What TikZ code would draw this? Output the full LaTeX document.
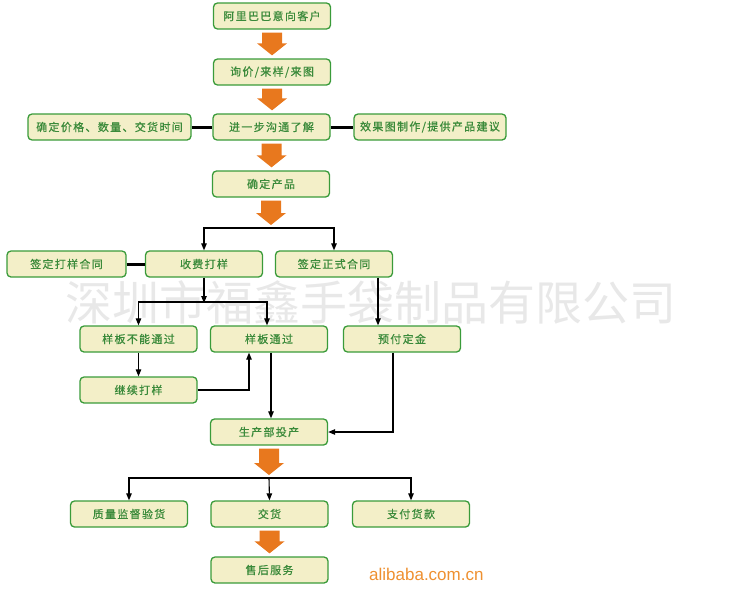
\documentclass[tikz,border=0pt]{standalone}
\usepackage{fontspec}
\setmainfont{Noto Sans CJK SC}
\newfontfamily\boxfont[LetterSpace=12,FakeBold=0.6]{Noto Sans CJK SC}
\newfontfamily\latinfont{Liberation Sans}
\usetikzlibrary{calc,arrows.meta}
\definecolor{boxfill}{HTML}{F3EFC8}
\definecolor{boxdraw}{HTML}{3A9B3A}
\definecolor{boxtext}{HTML}{3A8A3A}
\definecolor{orangec}{HTML}{E8781E}
\definecolor{webc}{HTML}{EE9030}
\newcommand\bigarrow[2]{\coordinate (ta) at (#1); \coordinate (tb) at (ta |- #2);
  \fill[orangec] ($(ta)+(-10,3)$) -- ($(ta)+(10,3)$) -- ($(tb)+(10,-15)$) -- ($(tb)+(15,-15)$) -- ($(tb)+(0,-3)$) -- ($(tb)+(-15,-15)$) -- ($(tb)+(-10,-15)$) -- cycle;}
\begin{document}
\begin{tikzpicture}[x=1pt,y=-1pt,
  box/.style={draw=boxdraw, line width=1.3pt, fill=boxfill, rounded corners=4pt,
    minimum width=117pt, minimum height=26pt, inner sep=0pt, text=boxtext,
    font=\boxfont\fontsize{11}{12}\selectfont},
  conn/.style={line width=1.1pt, -{Triangle[length=7pt,width=5.5pt]}},
  link/.style={line width=3pt}]
\useasboundingbox (0,0) rectangle (738,589);
% watermark
\node[text=black!9, font=\fontsize{47}{47}\selectfont, inner sep=0pt] (wm) at (371,302) {深圳市福鑫手袋制品有限公司};
% nodes
\node[box] (kh) at (272,16) {阿里巴巴意向客户};
\node[box] (xj) at (272,72) {询价/来样/来图};
\node[box, minimum width=163pt] (qd) at (109.5,127) {确定价格、数量、交货时间};
\node[box] (gt) at (271.5,127) {进一步沟通了解};
\node[box, minimum width=152pt] (xg) at (430,127) {效果图制作/提供产品建议};
\node[box] (cp) at (271,184) {确定产品};
\coordinate (br1) at (271,228);
\node[box, minimum width=119pt] (dy) at (66.5,264) {签定打样合同};
\node[box] (sf) at (204,264) {收费打样};
\node[box] (zs) at (334,264) {签定正式合同};
\coordinate (br2) at (204,302);
\node[box] (bn) at (138.5,339) {样板不能通过};
\node[box] (tg) at (269,339) {样板通过};
\node[box] (yf) at (402,339) {预付定金};
\node[box] (jx) at (138.5,390) {继续打样};
\node[box] (sc) at (269,432) {生产部投产};
\coordinate (br3) at (269,478);
\node[box] (zl) at (129,514) {质量监督验货};
\node[box] (jh) at (269.5,514) {交货};
\node[box] (zf) at (411,514) {支付货款};
\node[box] (sh) at (269.5,570) {售后服务};
\node[text=webc, font=\latinfont\fontsize{17}{17}\selectfont, anchor=west, inner sep=0pt] (ali) at (369,574) {alibaba.com.cn};
% big orange arrows
\bigarrow{kh.south}{xj.north}
\bigarrow{xj.south}{gt.north}
\bigarrow{gt.south}{cp.north}
\bigarrow{cp.south}{br1}
\bigarrow{sc.south}{br3}
\bigarrow{jh.south}{sh.north}
% thick links
\draw[link] (qd) -- (gt);
\draw[link] (gt) -- (xg);
\draw[link] (dy) -- (sf);
% connectors
\draw[conn] (br1) -| (sf.north);
\draw[conn] (br1) -| (zs.north);
\draw[conn] (sf.south) -- ([yshift=-1pt]br2);
\draw[conn] (br2) -| (bn.north);
\draw[conn] (br2) -| ([xshift=-2pt]tg.north);
\draw[conn] ([xshift=44pt]zs.south) -- ([xshift=44pt]zs.south |- yf.north);
\draw[conn] (bn.south) -- (jx.north);
\draw[conn] (jx.east) -| ([xshift=-20pt]tg.south);
\draw[conn] ([xshift=2pt]tg.south) -- ([xshift=2pt]sc.north);
\draw[conn] ([xshift=-9pt]yf.south) |- (sc.east);
\draw[conn] (br3) -| (zl.north);
\draw[conn] (br3) -- (jh.north);
\draw[conn] (br3) -| (zf.north);
\end{tikzpicture}
\end{document}
